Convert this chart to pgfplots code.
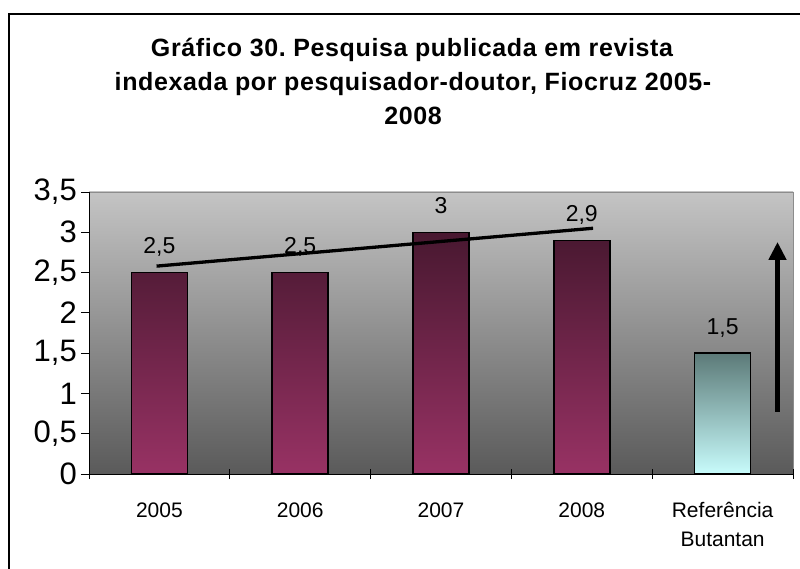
\documentclass[border=0pt]{standalone}
\usepackage{pgfplots}
\pgfplotsset{compat=1.18}
\usetikzlibrary{arrows.meta}
\usepackage{fontspec}
\setmainfont{Liberation Sans}
\frenchspacing
\definecolor{bgtop}{RGB}{196,196,196}
\definecolor{bgbot}{RGB}{90,90,90}
\definecolor{bartop}{RGB}{72,24,48}
\definecolor{barbot}{RGB}{152,50,100}
\definecolor{reftop}{RGB}{92,122,120}
\definecolor{refbot}{RGB}{200,252,252}
\definecolor{frame}{RGB}{140,140,140}
\newcommand{\reflabel}{\vtop{\baselineskip=29bp\hbox to 0pt{\hss Referência\hss}\hbox to 0pt{\hss Butantan\hss}}}
\begin{document}
\begin{tikzpicture}
\useasboundingbox (0,0) rectangle (800bp,569bp);
\fill[white] (0,0) rectangle (800bp,569bp);
\draw[line width=2bp] (9bp,-5bp) -- (9bp,555bp) -- (805bp,555bp);
\begin{scope}[every node/.style={font=\fontsize{25bp}{30bp}\selectfont\bfseries\addfontfeature{LetterSpace=2.5}, anchor=base, inner sep=0pt}]
\node at (412bp,512bp) {Gráfico 30. Pesquisa publicada em revista};
\node at (413bp,478bp) {indexada por pesquisador-doutor, Fiocruz 2005-};
\node at (413bp,444bp) {2008};
\end{scope}
\begin{axis}[
  at={(89bp,95bp)}, anchor=south west,
  width=704bp, height=282bp, scale only axis,
  xmin=-0.5, xmax=4.5, ymin=0, ymax=3.5,
  enlargelimits=false,
  axis x line*=bottom, axis y line*=left,
  axis line style={-, black, line width=0.8bp},
  axis background/.style={top color=bgtop, bottom color=bgbot, draw=frame, line width=0.8bp},
  /pgf/number format/use comma,
  /pgf/number format/assume math mode=true,
  ytick={0,0.5,...,3.5},
  xtick={0,1,2,3,4},
  xticklabels={2005,2006,2007,2008,\reflabel},
  minor xtick={-0.5,0.5,1.5,2.5,3.5,4.5},
  major x tick style={draw=none},
  minor x tick style={black, line width=0.8bp},
  major y tick style={black, line width=0.8bp},
  xtick align=center, ytick align=outside,
  major tick length=8bp, minor tick length=10bp,
  yticklabel style={font=\fontsize{31bp}{36bp}\selectfont, anchor=east, inner sep=0pt, xshift=-4bp},
  xticklabel style={font=\fontsize{21bp}{25bp}\selectfont, anchor=base, inner sep=0pt, yshift=-39bp},
  clip=false,
  nodes near coords,
  every node near coord/.append style={font=\fontsize{23bp}{27bp}\selectfont, anchor=base, inner sep=0pt, yshift=19bp, text=black},
]
\addplot[ybar, bar width=56bp, bar shift=0pt, draw=black, line width=1.5bp, top color=bartop, bottom color=barbot]
  coordinates {(0,2.5) (1,2.5) (2,3) (3,2.9)};
\addplot[ybar, bar width=56bp, bar shift=0pt, draw=black, line width=1.5bp, top color=reftop, bottom color=refbot]
  coordinates {(4,1.5)};
\addplot[black, line width=3.3bp, nodes near coords={}] coordinates {(-0.02,2.58) (3.08,3.05)};
\addplot[black, line width=5bp, -{Triangle[width=17bp,length=18bp]}, nodes near coords={}] coordinates {(4.39,0.77) (4.39,2.88)};
\end{axis}
\end{tikzpicture}
\end{document}
